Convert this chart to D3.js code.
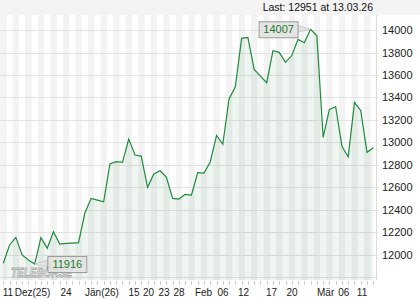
<!DOCTYPE html>
<html><head><meta charset="utf-8">
<script src="https://cdn.jsdelivr.net/npm/d3@7"></script>
<style>body{margin:0;background:#fff}svg{display:block}text{font-family:"Liberation Sans",Arial,sans-serif}</style>
</head><body>
<svg id="c" width="420" height="300"></svg>
<script>
// ---- data ----
const values = [11923,12086,12154,11997,11952,11916,12151,12056,12204,12094,
  12100,12103,12106,12368,12501,12486,12471,12807,12828,12822,
  13029,12887,12878,12599,12718,12747,12690,12501,12495,12537,
  12530,12731,12726,12825,13062,12983,13386,13495,13926,13935,
  13650,13590,13531,13816,13801,13712,13773,13917,13887,14007,
  13949,13045,13294,13317,12965,12870,13356,13282,12911,12951];
const xTickLabels = ["11","Dez(25)","24","Jän(26)","15","20","23","28","Feb","06","12","17","20","Mär","06","11"];
const xTickIndex  = [0.75,4.66,10,15.74,20.85,23.16,25.63,28.02,31.93,35.04,38.3,42.78,46.05,51.4,54.3,57.2];
const yTicks = [11800,12000,12200,12400,12600,12800,13000,13200,13400,13600,13800,14000];
const yLabelTicks = [12000,12200,12400,12600,12800,13000,13200,13400,13600,13800,14000];
const title = "Last: 12951 at 13.03.26";
const watermark = "TELEBÖRSE";

// ---- layout ----
const svg = d3.select("#c");
const plotL = 0, plotR = 376, plotT = 15, plotB = 280;
const x = d3.scaleLinear().domain([0, values.length - 1]).range([3.3, 373.3]);
const y = d3.scaleLinear().domain([11774, 14134]).range([plotB, plotT]);
const step = x(1) - x(0);

// top band
svg.append("rect").attr("x",0).attr("y",0).attr("width",420).attr("height",plotT).attr("fill","#f4f4f4");
// stripes
svg.append("rect").attr("x",plotL).attr("y",plotT).attr("width",plotR-plotL).attr("height",plotB-plotT).attr("fill","#fff");
const stripeIdx = d3.range(0, values.length, 2);
svg.append("g").selectAll("rect").data(stripeIdx).join("rect")
  .attr("x", d => Math.max(plotL, x(d) - 3))
  .attr("width", d => Math.min(plotR, x(d) - 3 + step) - Math.max(plotL, x(d) - 3))
  .attr("y", plotT).attr("height", plotB - plotT).attr("fill", "#f3f3f3");

// gridlines
svg.append("g").selectAll("line").data(yTicks).join("line")
  .attr("x1", plotL).attr("x2", plotR + 2)
  .attr("y1", d => Math.round(y(d)) + 0.5).attr("y2", d => Math.round(y(d)) + 0.5)
  .attr("stroke", "#e2e2e2").attr("stroke-width", 1);
svg.append("line").attr("x1", plotR + 0.5).attr("x2", plotR + 0.5).attr("y1", plotT).attr("y2", plotB)
  .attr("stroke", "#dcdcdc");

// area + line
const area = d3.area().x((d,i) => x(i)).y0(plotB).y1(d => y(d));
svg.append("path").datum(values).attr("d", area).attr("fill", "#2e8b3e").attr("fill-opacity", 0.075);
const line = d3.line().x((d,i) => x(i)).y(d => y(d));
svg.append("path").datum(values).attr("d", line).attr("fill", "none")
  .attr("stroke", "#1e8a3c").attr("stroke-width", 1.2).attr("stroke-linejoin", "miter");

// bottom ticks
svg.append("g").selectAll("line").data(d3.range(values.length)).join("line")
  .attr("x1", d => Math.round(x(d)) + 0.5).attr("x2", d => Math.round(x(d)) + 0.5)
  .attr("y1", plotB + 1).attr("y2", plotB + 5).attr("stroke", "#d0d0d0");

// y labels
svg.append("g").selectAll("text").data(yLabelTicks).join("text")
  .attr("x", 382).attr("y", d => y(d) + 4)
  .attr("font-size", 11).attr("fill", "#222").text(d => d);

// x labels
svg.append("g").selectAll("text").data(xTickLabels).join("text")
  .attr("x", (d,i) => x(xTickIndex[i])).attr("y", 296)
  .attr("text-anchor", "middle").attr("font-size", 10).attr("fill", "#222").text(d => d);

// title
svg.append("text").attr("x", 373).attr("y", 11).attr("text-anchor", "end")
  .attr("font-size", 10.5).attr("fill", "#111").text(title);

// watermark
svg.append("text").attr("x", 11).attr("y", 277).attr("font-size", 13).attr("font-weight", "bold")
  .attr("font-style", "italic").attr("fill", "#fff").attr("fill-opacity", 0.6)
  .attr("stroke", "#a8a8a8").attr("stroke-width", 0.9)
  .attr("textLength", 61).attr("lengthAdjust", "spacingAndGlyphs").text(watermark);

// annotations
const maxI = d3.maxIndex(values), minI = d3.minIndex(values);
function annot(i, side) {
  const px = x(i), py = y(values[i]);
  const w = 39, h = 16;
  const bx = side === "left" ? px - 52 : px + 12.7;
  const by = py - 8;
  const ex = side === "left" ? bx + w : bx;
  svg.append("path")
    .attr("d", `M${ex},${by + 4}L${px},${py}L${ex},${by + 11}Z`)
    .attr("fill", "#e2e2e2").attr("stroke", "#bbb").attr("stroke-width", 0.6);
  svg.append("rect").attr("x", bx + 0.5).attr("y", by + 0.5).attr("width", w).attr("height", h)
    .attr("fill", "#e2e2e2").attr("fill-opacity", 0.9).attr("stroke", "#9a9a9a");
  svg.append("text").attr("x", bx + w / 2 + 0.5).attr("y", by + 12).attr("text-anchor", "middle")
    .attr("font-size", 11).attr("fill", "#1e7a30").text(values[i]);
}
annot(maxI, "left");
annot(minI, "right");
</script>
</body></html>
